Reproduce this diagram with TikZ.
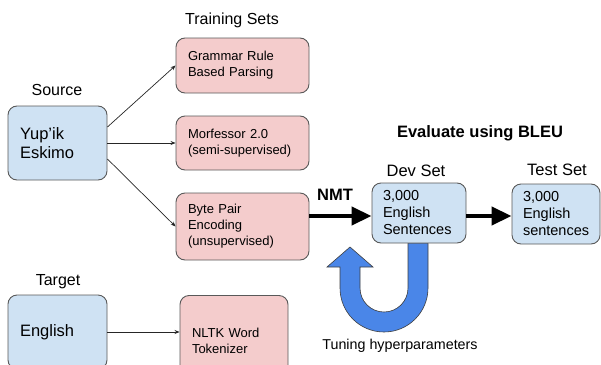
\documentclass[tikz,border=0pt]{standalone}
\usepackage{fontspec}
\setmainfont{Liberation Sans}
\usetikzlibrary{arrows.meta,calc}
\hyphenpenalty=10000 \exhyphenpenalty=10000
\definecolor{boxblue}{HTML}{CFE2F3}
\definecolor{boxpink}{HTML}{F4CCCC}
\definecolor{boxline}{HTML}{595959}
\definecolor{ublue}{HTML}{4A86E8}
\begin{document}
\begin{tikzpicture}[x=1pt,y=-1pt,
  box/.style={draw=boxline, line width=0.9pt, rounded corners=9pt, align=left, inner xsep=12pt, inner ysep=0pt, anchor=center},
  srcbox/.style={box, fill=boxblue, font=\fontsize{16.5}{18.5}\selectfont},
  setbox/.style={box, fill=boxblue, font=\fontsize{14.5}{17}\selectfont, inner xsep=11pt},
  trainbox/.style={box, fill=boxpink, font=\fontsize{13}{16}\selectfont},
  lbl/.style={anchor=base, inner sep=0pt, font=\fontsize{16}{19}\selectfont},
  boldlbl/.style={anchor=base, inner sep=0pt, font=\fontsize{16.5}{19}\selectfont\bfseries},
  thinarrow/.style={draw=black!85, line width=0.7pt, -{Stealth[length=5pt,width=4pt]}},
  thickarrow/.style={draw=black, line width=4pt, -{Triangle[length=20pt,width=18pt]}},
  uarrow/.style={fill=ublue, draw=boxline!70!black, line width=0.6pt, line join=miter}
]
\useasboundingbox (0,0) rectangle (601,364);

% U-shaped tuning arrow
\draw[uarrow] (428,243) -- (428,288)
  .. controls (428,312.3) and (408.3,332) .. (384,332)
  .. controls (359.7,332) and (340,312.3) .. (340,288)
  -- (340,267) -- (327,267) -- (350,247) -- (373,267) -- (360,267) -- (360,288)
  .. controls (360,301.25) and (370.75,312) .. (384,312)
  .. controls (397.25,312) and (408,301.25) .. (408,288)
  -- (408,243) -- cycle;

% boxes
\node[srcbox, text width=75pt, minimum height=74pt] (src) at (57.5,143) {Yup’ik\\Eskimo};
\node[trainbox, text width=109pt, minimum height=55pt] (gram) at (242.5,65.5) {Grammar Rule\\Based Parsing};
\node[trainbox, text width=109pt, minimum height=54pt] (morf) at (242.5,143) {Morfessor 2.0\\(semi-supervised)};
\node[trainbox, text width=109pt, minimum height=67pt] (bpe) at (242.5,226.5) {Byte Pair\\Encoding\\(unsupervised)};
\node[srcbox, text width=75pt, minimum height=74pt] (tgt) at (57.5,332) {English};
\node[trainbox, text width=84pt, minimum height=91pt] (nltk) at (234,341) {NLTK Word\\Tokenizer};
\node[setbox, text width=72pt, minimum height=60pt] (dev) at (419,213) {3,000\\English\\Sentences};
\node[setbox, text width=66pt, minimum height=60pt] (test) at (556,214) {3,000\\English\\sentences};

% labels
\node[lbl] (lsrc) at (57,95) {Source};
\node[lbl] (ltrain) at (232,24) {Training Sets};
\node[lbl] (ltgt) at (58,285) {Target};
\node[boldlbl] (leval) at (480,137) {Evaluate using BLEU};
\node[boldlbl] (lnmt) at (335,200) {NMT};
\node[lbl, font=\fontsize{16.5}{19}\selectfont] (ldev) at (416,176) {Dev Set};
\node[lbl, font=\fontsize{16.5}{19}\selectfont] (ltest) at (557,175) {Test Set};
\node[lbl, font=\fontsize{14.3}{17}\selectfont] (ltune) at (400,349) {Tuning hyperparameters};

% connectors
\draw[thinarrow] ($(src.east)+(0,-16)$) -- (gram.west);
\draw[thinarrow] (src.east) -- (morf.west);
\draw[thinarrow] ($(src.east)+(0,16)$) -- (bpe.west);
\draw[thinarrow] (tgt.east) -- (tgt.east -| nltk.west);
\draw[thickarrow] ($(dev.west -| bpe.east)+(0,3)$) -- ($(dev.west)+(0,3)$);
\draw[thickarrow] ($(dev.east)+(0,3)$) -- ($(dev.east -| test.west)+(0,3)$);
\end{tikzpicture}
\end{document}
